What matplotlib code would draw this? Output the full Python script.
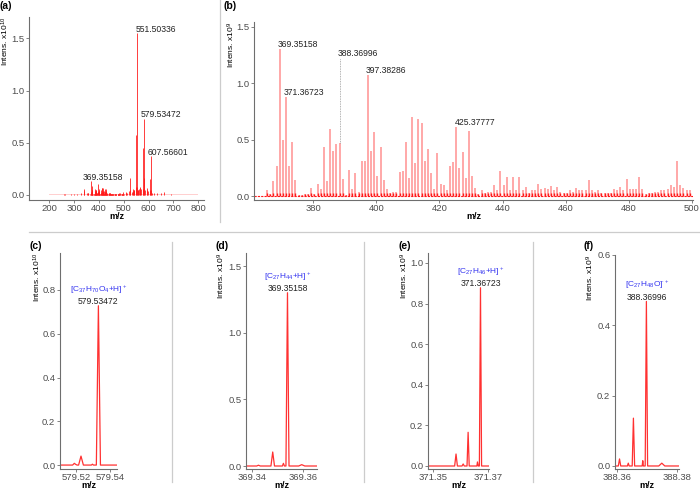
import numpy as np
import matplotlib
matplotlib.use('Agg')
import matplotlib.pyplot as plt
from matplotlib.lines import Line2D

plt.rcParams['font.family'] = ['Liberation Sans', 'DejaVu Sans']
plt.rcParams['mathtext.fontset'] = 'custom'
plt.rcParams['mathtext.rm'] = 'Liberation Sans'
plt.rcParams['mathtext.it'] = 'Liberation Sans:italic'
plt.rcParams['mathtext.bf'] = 'Liberation Sans:bold'

# ---------------- data ----------------
# (b) zoomed spectrum: nominal masses 365..499, intensities x1e9
b_nominal = np.arange(365, 500)
b_mass_defect = 0.35
b_int = [0.05, 0.02, 0.13, 0.27, 1.30, 0.50, 0.88, 0.27, 0.48, 0.14,   # 365-374
         0.01, 0.01, 0.02, 0.02, 0.07, 0.02, 0.11, 0.06, 0.43, 0.13,   # 375-384
         0.59, 0.40, 0.46, 0.47, 0.15, 0.01, 0.23, 0.06, 0.20, 0.04,   # 385-394
         0.31, 0.31, 1.07, 0.40, 0.57, 0.18, 0.43, 0.14, 0.06, 0.03,   # 395-404
         0.04, 0.04, 0.21, 0.22, 0.48, 0.16, 0.70, 0.29, 0.68, 0.65,   # 405-414
         0.31, 0.42, 0.20, 0.06, 0.38, 0.11, 0.10, 0.05, 0.27, 0.30,   # 415-424
         0.61, 0.25, 0.39, 0.16, 0.58, 0.18, 0.07, 0.02, 0.05, 0.03,   # 425-434
         0.04, 0.04, 0.10, 0.05, 0.22, 0.10, 0.17, 0.05, 0.17, 0.05,   # 435-444
         0.17, 0.05, 0.08, 0.03, 0.05, 0.05, 0.11, 0.06, 0.07, 0.06,   # 445-454
         0.09, 0.05, 0.08, 0.04, 0.03, 0.03, 0.05, 0.04, 0.07, 0.05,   # 455-464
         0.05, 0.05, 0.14, 0.05, 0.04, 0.05, 0.03, 0.03, 0.03, 0.03,   # 465-474
         0.06, 0.05, 0.08, 0.05, 0.15, 0.06, 0.06, 0.06, 0.17, 0.06,   # 475-484
         0.02, 0.03, 0.03, 0.04, 0.04, 0.05, 0.05, 0.06, 0.10, 0.08,   # 485-494
         0.31, 0.10, 0.07, 0.05, 0.05]                                 # 495-499
b_labels_mz = [369.35158, 371.36723, 397.38286, 425.37777]
b_labels_int = [1.30, 0.88, 1.07, 0.61]
b_dotted_mz = 388.36996
b_dotted_int = 0.47
b_dotted_top = 1.22

# (a) full spectrum, intensities x1e10 (peaks outside the 365-499 window)
a_mz_extra = [257.2, 263.2, 285.2, 299.2, 313.2, 327.3, 339.3, 341.3, 353.3, 355.3, 357.3,
              507.4, 509.4, 511.4, 521.5, 523.5, 525.5, 533.5, 535.5, 537.5, 539.5, 541.5,
              547.5, 549.5, 551.50336, 553.5, 555.5, 557.5, 561.5, 563.5, 565.5, 567.5,
              575.5, 577.5, 579.53472, 581.5, 583.5, 591.5, 593.5, 595.5, 603.6, 605.6,
              607.56601, 609.6, 611.6, 621.6, 635.6, 649.6, 663.6, 691.6]
a_int_extra = [0.012, 0.010, 0.012, 0.008, 0.012, 0.015, 0.06, 0.035, 0.02, 0.015, 0.02,
               0.02, 0.03, 0.02, 0.04, 0.16, 0.05, 0.03, 0.04, 0.06, 0.05, 0.05,
               0.08, 0.57, 1.55, 0.08, 0.05, 0.05, 0.06, 0.08, 0.07, 0.06,
               0.06, 0.45, 0.73, 0.16, 0.05, 0.05, 0.07, 0.04, 0.05, 0.15,
               0.37, 0.05, 0.02, 0.02, 0.015, 0.015, 0.03, 0.01]
a_labels_mz = [551.50336, 579.53472, 607.56601, 369.35158]
a_labels_int = [1.55, 0.73, 0.37, 0.13]

# (c)-(f) profile spectra
c_x = [579.5106, 579.5180, 579.5190, 579.5198, 579.5206, 579.5215, 579.5229, 579.5243,
       579.5290, 579.5296, 579.5302, 579.5319, 579.5331, 579.5343, 579.5440]
c_y = [0.0, 0.0, 0.008, 0.003, 0.0, 0.0, 0.041, 0.0, 0.0, 0.004, 0.0, 0.0, 0.728, 0.0, 0.0]
d_x = [369.3376, 369.3418, 369.3425, 369.3432, 369.3474, 369.3481, 369.3488, 369.3519,
       369.3523, 369.3527, 369.3533, 369.3539, 369.3545, 369.3583, 369.3595, 369.3607, 369.3655]
d_y = [0.0, 0.0, 0.006, 0.0, 0.0, 0.105, 0.0, 0.0, 0.02, 0.0, 0.0, 1.30, 0.0, 0.0, 0.01, 0.0, 0.0]
e_x = [371.3482, 371.3579, 371.3584, 371.3589, 371.3606, 371.3610, 371.3614, 371.3624,
       371.3628, 371.3632, 371.3660, 371.3662, 371.3665, 371.3669, 371.3673, 371.3677, 371.3704]
e_y = [0.0, 0.0, 0.059, 0.0, 0.0, 0.01, 0.0, 0.0, 0.166, 0.0, 0.0, 0.02, 0.0, 0.0, 0.878, 0.0, 0.0]
f_x = [388.3594, 388.3605, 388.3609, 388.3613, 388.3635, 388.3638, 388.3641, 388.3651,
       388.3655, 388.3659, 388.3684, 388.3686, 388.3688, 388.3694, 388.3698, 388.3702,
       388.3739, 388.3749, 388.3759, 388.3806]
f_y = [0.0, 0.0, 0.02, 0.0, 0.0, 0.008, 0.0, 0.0, 0.136, 0.0, 0.0, 0.015, 0.0, 0.0, 0.468,
       0.0, 0.0, 0.008, 0.0, 0.0]

profile_formulas = [r'[C$_{37}$H$_{70}$O$_4$+H]$^+$', r'[C$_{27}$H$_{44}$+H]$^+$',
                    r'[C$_{27}$H$_{46}$+H]$^+$', r'[C$_{27}$H$_{48}$O]$^{\bullet+}$']
profile_peak_labels = ['579.53472', '369.35158', '371.36723', '388.36996']

# ---------------- figure ----------------
W, H = 700, 490
fig = plt.figure(figsize=(7, 4.9), dpi=100)

RED = '#ff1a1a'
PINK = '#ff9a9a'
SPINE = '#6e6e6e'
TICKC = '#4d4d4d'


def px_axes(box):
    l, t, r, b = box
    return fig.add_axes([l / W, 1 - b / H, (r - l) / W, (b - t) / H])


def style(ax, box, ylab, ylab_x, xlab_y):
    l, t, r, b = box
    for s in ('top', 'right'):
        ax.spines[s].set_visible(False)
    for s in ('left', 'bottom'):
        ax.spines[s].set_color(SPINE)
        ax.spines[s].set_linewidth(0.8)
    ax.tick_params(direction='out', length=2.2, width=0.6, color=SPINE,
                   labelsize=6.8, labelcolor=TICKC, pad=1.2)
    ax.tick_params(axis='x', pad=0.8)
    ax.set_xlabel('m/z', fontsize=6.5, fontweight='bold')
    ax.xaxis.label.set_va('center')
    ax.xaxis.set_label_coords(0.5, (b - xlab_y) / (b - t))
    ax.set_ylabel(ylab, fontsize=6, loc='top')
    ax.yaxis.label.set_va('center')
    ax.yaxis.set_label_coords((ylab_x - l) / (r - l), 1.0)
    ax.yaxis.set_major_formatter(matplotlib.ticker.FormatStrFormatter('%.1f'))


def panel_label(x, y, s):
    fig.text(x / W, 1 - y / H, s, fontsize=7.5, fontweight='bold', ha='left', va='top')


# (a)
box_a = (29, 17, 204, 200)
axa = px_axes(box_a)
b_mz = b_nominal + b_mass_defect
a_mz = np.concatenate([a_mz_extra, b_mz])
a_int = np.concatenate([a_int_extra, np.array(b_int) / 10.0])
axa.fill_between([200, 800], 0, 0.012, color='#ffd0d0', lw=0)
axa.vlines(a_mz, 0, a_int, color=RED, lw=0.7, alpha=0.85)
axa.set_xlim(118, 823)
axa.set_ylim(-0.048, 1.705)
axa.set_xticks([200, 300, 400, 500, 600, 700, 800])
axa.set_yticks([0, 0.5, 1.0, 1.5])
style(axa, box_a, r'Intens. x10$^{10}$', 5.5, 216.5)
axa.xaxis.set_major_formatter(matplotlib.ticker.FormatStrFormatter('%d'))
for (m, v), dx in zip(zip(a_labels_mz, a_labels_int), [-1, -2, -2, -6.5]):
    axa.annotate(f'{m:.5f}', (m, v), xytext=(dx, 1.2), textcoords='offset points',
                 ha='left', va='baseline', fontsize=6.2, color='#222222')
panel_label(0, 1, '(a)')

# (b)
box_b = (254, 22, 693, 200)
axb = px_axes(box_b)
axb.axhline(0, color=RED, lw=0.8, ls=(0, (2, 1)))
axb.vlines(b_mz, 0, b_int, color=PINK, lw=1.2)
axb.vlines(b_mz, 0, np.minimum(b_int, 0.03), color=RED, lw=1.0)
axb.vlines([b_dotted_mz], b_dotted_int, b_dotted_top, color='#9a9a9a', lw=0.6, ls=(0, (1, 1)))
axb.set_xlim(361.2, 500.4)
axb.set_ylim(-0.035, 1.541)
axb.set_xticks([380, 400, 420, 440, 460, 480, 500])
axb.set_yticks([0, 0.5, 1.0, 1.5])
style(axb, box_b, r'Intens. x10$^{9}$', 231.5, 216.5)
axb.xaxis.set_major_formatter(matplotlib.ticker.FormatStrFormatter('%d'))
for m, v in zip(b_labels_mz + [b_dotted_mz], b_labels_int + [b_dotted_top]):
    axb.annotate(f'{m:.5f}', (m, v), xytext=(-1.5, 1.5), textcoords='offset points',
                 ha='left', va='baseline', fontsize=6.2, color='#222222')
panel_label(224, 1, '(b)')

# bottom profile panels
prof = [
    (c_x, c_y, (60, 253, 117, 469), (579.5106, 579.5440), (-0.018, 0.969),
     [579.52, 579.54], [0, 0.2, 0.4, 0.6, 0.8], r'Intens. x10$^{10}$', 37.5, (30, 241), '(c)'),
    (d_x, d_y, (246, 253, 317, 469), (369.3376, 369.3655), (-0.0225, 1.598),
     [369.34, 369.36], [0, 0.5, 1.0, 1.5], r'Intens. x10$^{9}$', 221.5, (216, 241), '(d)'),
    (e_x, e_y, (428, 253, 489, 469), (371.3482, 371.3704), (-0.0148, 1.049),
     [371.35, 371.37], [0, 0.2, 0.4, 0.6, 0.8, 1.0], r'Intens. x10$^{9}$', 404.5, (399, 241), '(e)'),
    (f_x, f_y, (615, 255, 679, 469), (388.3594, 388.3806), (-0.0086, 0.60),
     [388.36, 388.38], [0, 0.2, 0.4, 0.6], r'Intens. x10$^{9}$', 590.5, (584, 241), '(f)'),
]
for i, (xs, ys, box, xl, yl, xt, yt, ylab, ylx, lab_pos, lab) in enumerate(prof):
    ax = px_axes(box)
    ax.plot(xs, ys, color=RED, lw=0.9, alpha=0.9)
    ax.set_xlim(*xl)
    ax.set_ylim(*yl)
    ax.set_xticks(xt)
    ax.set_yticks(yt)
    style(ax, box, ylab, ylx, 485.5)
    ax.xaxis.set_major_formatter(matplotlib.ticker.FormatStrFormatter('%.2f'))
    k = int(np.argmax(ys))
    ax.annotate(profile_peak_labels[i], (xs[k], ys[k]), xytext=(0, 1.3),
                textcoords='offset points', ha='center', va='baseline',
                fontsize=6.2, color='#222222', annotation_clip=False)
    ax.annotate(profile_formulas[i], (xs[k], ys[k]), xytext=(0.5, 10.2),
                textcoords='offset points', ha='center', va='baseline',
                fontsize=6.0, color='#3535f0', annotation_clip=False)
    panel_label(lab_pos[0], lab_pos[1], lab)

# separators
SEP = '#cccccc'
def fig_line(x1, y1, x2, y2):
    fig.add_artist(Line2D([x1 / W, x2 / W], [1 - y1 / H, 1 - y2 / H],
                          transform=fig.transFigure, color=SEP, lw=0.9))

fig_line(220, 0, 220, 222)
fig_line(29, 232, 700, 232)
for xs_ in (172, 364, 533):
    fig_line(xs_, 242, xs_, 482)

fig.savefig('out.png', dpi=100)
